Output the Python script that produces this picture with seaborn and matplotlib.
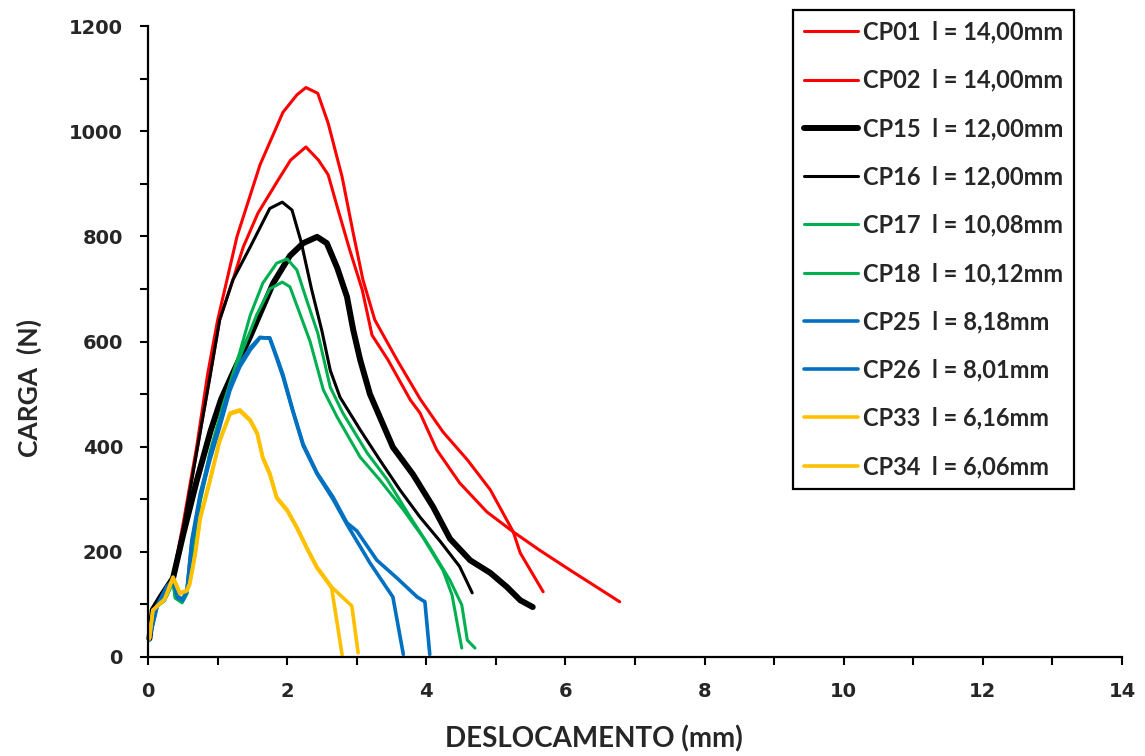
import matplotlib
matplotlib.use("Agg")
import matplotlib.pyplot as plt
import seaborn as sns
import pandas as pd
from matplotlib.ticker import MultipleLocator

# ---------------- data ----------------
labels = ["CP01  l = 14,00mm", "CP02  l = 14,00mm", "CP15  l = 12,00mm",
          "CP16  l = 12,00mm", "CP17  l = 10,08mm", "CP18  l = 10,12mm",
          "CP25  l = 8,18mm", "CP26  l = 8,01mm", "CP33  l = 6,16mm",
          "CP34  l = 6,06mm"]

cp01_x = [0.02, 0.07, 0.2, 0.36, 0.5, 0.7, 0.86, 1.0, 1.28, 1.61, 1.94, 2.14, 2.27, 2.44, 2.59, 2.69,
          2.79, 2.95, 3.09, 3.26, 3.58, 3.91, 4.24, 4.59, 4.92, 5.25, 5.35, 5.68]
cp01_y = [35, 90, 118, 152, 250, 400, 540, 640, 800, 936, 1036, 1069, 1083, 1072, 1015, 964,
          913, 806, 717, 641, 565, 491, 428, 375, 318, 238, 198, 124]

cp02_x = [0.02, 0.07, 0.2, 0.36, 0.5, 0.7, 0.89, 1.03, 1.22, 1.37, 1.58, 1.87, 2.05, 2.27, 2.45, 2.59,
          2.72, 2.90, 3.08, 3.22, 3.45, 3.77, 3.91, 4.15, 4.48, 4.87, 5.25, 5.63, 6.07, 6.78]
cp02_y = [35, 90, 118, 150, 240, 390, 533, 641, 717, 780, 844, 907, 945, 970, 945, 917,
          856, 774, 698, 612, 565, 489, 464, 394, 331, 276, 238, 203, 165, 105]

cp15_x = [0.02, 0.07, 0.2, 0.36, 0.5, 0.7, 0.9, 1.05, 1.22, 1.47, 1.8, 2.04, 2.23, 2.43, 2.57, 2.72,
          2.86, 2.95, 3.05, 3.19, 3.52, 3.81, 4.1, 4.34, 4.63, 4.92, 5.16, 5.35, 5.53]
cp15_y = [35, 90, 118, 150, 230, 335, 430, 490, 540, 610, 711, 763, 787, 799, 787, 740,
          685, 622, 565, 500, 399, 347, 285, 225, 184, 160, 133, 108, 95]

cp16_x = [0.02, 0.07, 0.2, 0.36, 0.5, 0.7, 0.89, 1.03, 1.22, 1.47, 1.75, 1.93, 2.07, 2.2, 2.35,
          2.5, 2.62, 2.76, 3.05, 3.33, 3.62, 3.91, 4.2, 4.48, 4.66]
cp16_y = [35, 90, 118, 150, 240, 390, 533, 641, 717, 780, 853, 865, 850, 790, 700,
          620, 545, 494, 432, 375, 318, 266, 220, 172, 122]

cp17_x = [0.02, 0.07, 0.24, 0.36, 0.39, 0.49, 0.56, 0.65, 0.75, 0.89, 1.08, 1.32, 1.47, 1.65, 1.85,
          2.0, 2.14, 2.28, 2.44, 2.62, 2.80, 3.15, 3.44, 3.77, 4.05, 4.34, 4.51, 4.59, 4.70]
cp17_y = [32, 89, 108, 143, 115, 105, 122, 215, 300, 390, 480, 580, 650, 711, 749,
          757, 736, 679, 616, 513, 464, 388, 337, 266, 209, 146, 99, 32, 17]

cp18_x = [0.02, 0.07, 0.24, 0.36, 0.39, 0.49, 0.56, 0.65, 0.75, 0.89, 1.08, 1.32, 1.56, 1.75, 1.93,
          2.04, 2.18, 2.33, 2.52, 2.72, 3.05, 3.33, 3.67, 3.95, 4.24, 4.37, 4.51]
cp18_y = [32, 89, 108, 143, 112, 103, 120, 210, 295, 380, 470, 570, 650, 700, 713,
          704, 654, 600, 508, 456, 380, 337, 280, 228, 165, 118, 17]

cp25_x = [0.02, 0.13, 0.27, 0.36, 0.43, 0.50, 0.56, 0.63, 0.75, 0.89, 1.03, 1.18, 1.32, 1.47, 1.61,
          1.75, 1.85, 1.94, 2.08, 2.23, 2.43, 2.66, 2.86, 3.0, 3.29, 3.58, 3.87, 3.98, 4.05]
cp25_y = [35, 95, 131, 143, 112, 108, 125, 217, 304, 375, 437, 508, 552, 584, 607,
          607, 571, 537, 470, 405, 350, 304, 255, 240, 184, 150, 114, 105, 5]

cp26_x = [0.02, 0.13, 0.27, 0.36, 0.43, 0.50, 0.56, 0.63, 0.75, 0.89, 1.03, 1.18, 1.32, 1.47, 1.61,
          1.75, 1.85, 1.94, 2.08, 2.23, 2.43, 2.66, 2.86, 3.19, 3.52, 3.67]
cp26_y = [35, 98, 134, 146, 115, 110, 128, 222, 310, 382, 445, 515, 558, 588, 608,
          606, 568, 533, 468, 402, 348, 300, 252, 179, 114, 5]

cp33_x = [0.02, 0.07, 0.24, 0.36, 0.46, 0.56, 0.6, 0.68, 0.75, 0.89, 1.03, 1.18, 1.32, 1.47, 1.57,
          1.65, 1.75, 1.85, 2.0, 2.14, 2.28, 2.43, 2.57, 2.64, 2.76, 2.93, 3.02]
cp33_y = [35, 89, 110, 152, 122, 127, 140, 198, 266, 337, 413, 464, 470, 451, 426,
          380, 350, 304, 280, 247, 209, 171, 146, 133, 118, 97, 8]

cp34_x = [0.02, 0.07, 0.24, 0.36, 0.46, 0.56, 0.6, 0.68, 0.75, 0.89, 1.03, 1.18, 1.32, 1.47, 1.57,
          1.65, 1.75, 1.85, 2.0, 2.14, 2.28, 2.43, 2.57, 2.64, 2.66, 2.79]
cp34_y = [35, 89, 110, 150, 120, 126, 138, 196, 262, 334, 410, 462, 468, 449, 424,
          378, 347, 302, 278, 245, 207, 169, 144, 131, 114, 4]

xs = [cp01_x, cp02_x, cp15_x, cp16_x, cp17_x, cp18_x, cp25_x, cp26_x, cp33_x, cp34_x]
ys = [cp01_y, cp02_y, cp15_y, cp16_y, cp17_y, cp18_y, cp25_y, cp26_y, cp33_y, cp34_y]

x_ticks = [0, 2, 4, 6, 8, 10, 12, 14]
y_ticks = [0, 200, 400, 600, 800, 1000, 1200]

# ---------------- styles ----------------
colors = ["#FF0000", "#FF0000", "#000000", "#000000", "#00B050", "#00B050",
          "#0070C0", "#0070C0", "#FFC000", "#FFC000"]
widths = [2.2, 2.2, 4.3, 2.2, 2.2, 2.2, 2.6, 2.6, 2.6, 2.6]

sns.set_theme(style="white")
plt.rcParams["font.family"] = ["DejaVu Sans"]

fig = plt.figure(figsize=(11.45, 7.56), dpi=100)
ax = fig.add_axes([148 / 1145, 1 - 657 / 756, (1122 - 148) / 1145, (657 - 26) / 756])

for lab, x, y, c, w in zip(labels, xs, ys, colors, widths):
    df = pd.DataFrame({"x": x, "y": y})
    sns.lineplot(data=df, x="x", y="y", ax=ax, sort=False, estimator=None,
                 color=c, linewidth=w, label=lab, clip_on=False,
                 solid_joinstyle="round", solid_capstyle="round")

ax.set_xlim(0, 14)
ax.set_ylim(0, 1200)
ax.set_xticks(x_ticks)
ax.set_yticks(y_ticks)
ax.xaxis.set_minor_locator(MultipleLocator(1))
ax.yaxis.set_minor_locator(MultipleLocator(100))
ax.tick_params(axis="both", which="both", direction="out", length=6, width=1.5,
               color="black", bottom=True, left=True)
ax.tick_params(axis="both", which="major", labelsize=14, pad=12)
for t in ax.get_xticklabels() + ax.get_yticklabels():
    t.set_fontweight("bold")
    t.set_family("DejaVu Sans")

for s in ["top", "right"]:
    ax.spines[s].set_visible(False)
for s in ["left", "bottom"]:
    ax.spines[s].set_color("black")
    ax.spines[s].set_linewidth(1.6)

ax.set_xlabel("DESLOCAMENTO (mm)", fontsize=20, fontweight="bold", family="Lato")
ax.set_ylabel("CARGA  (N)", fontsize=19, fontweight="bold", family="Lato")
ax.xaxis.set_label_coords(0.458, -0.108)
ax.yaxis.set_label_coords(-0.109, 0.426)

ax.legend_.remove()
handles, labs = ax.get_legend_handles_labels()
leg = fig.legend(handles, labs, loc="upper left",
                 bbox_to_anchor=(793 / 1145, 1 - 10 / 756),
                 frameon=True, fancybox=False, framealpha=1, edgecolor="black",
                 prop={"family": "Lato", "weight": "bold", "size": 17},
                 handlelength=2.3, handletextpad=0.2, labelspacing=1.07,
                 borderpad=0.45, borderaxespad=0)
leg.get_frame().set_linewidth(1.6)

fig.savefig("out.png", dpi=100)
